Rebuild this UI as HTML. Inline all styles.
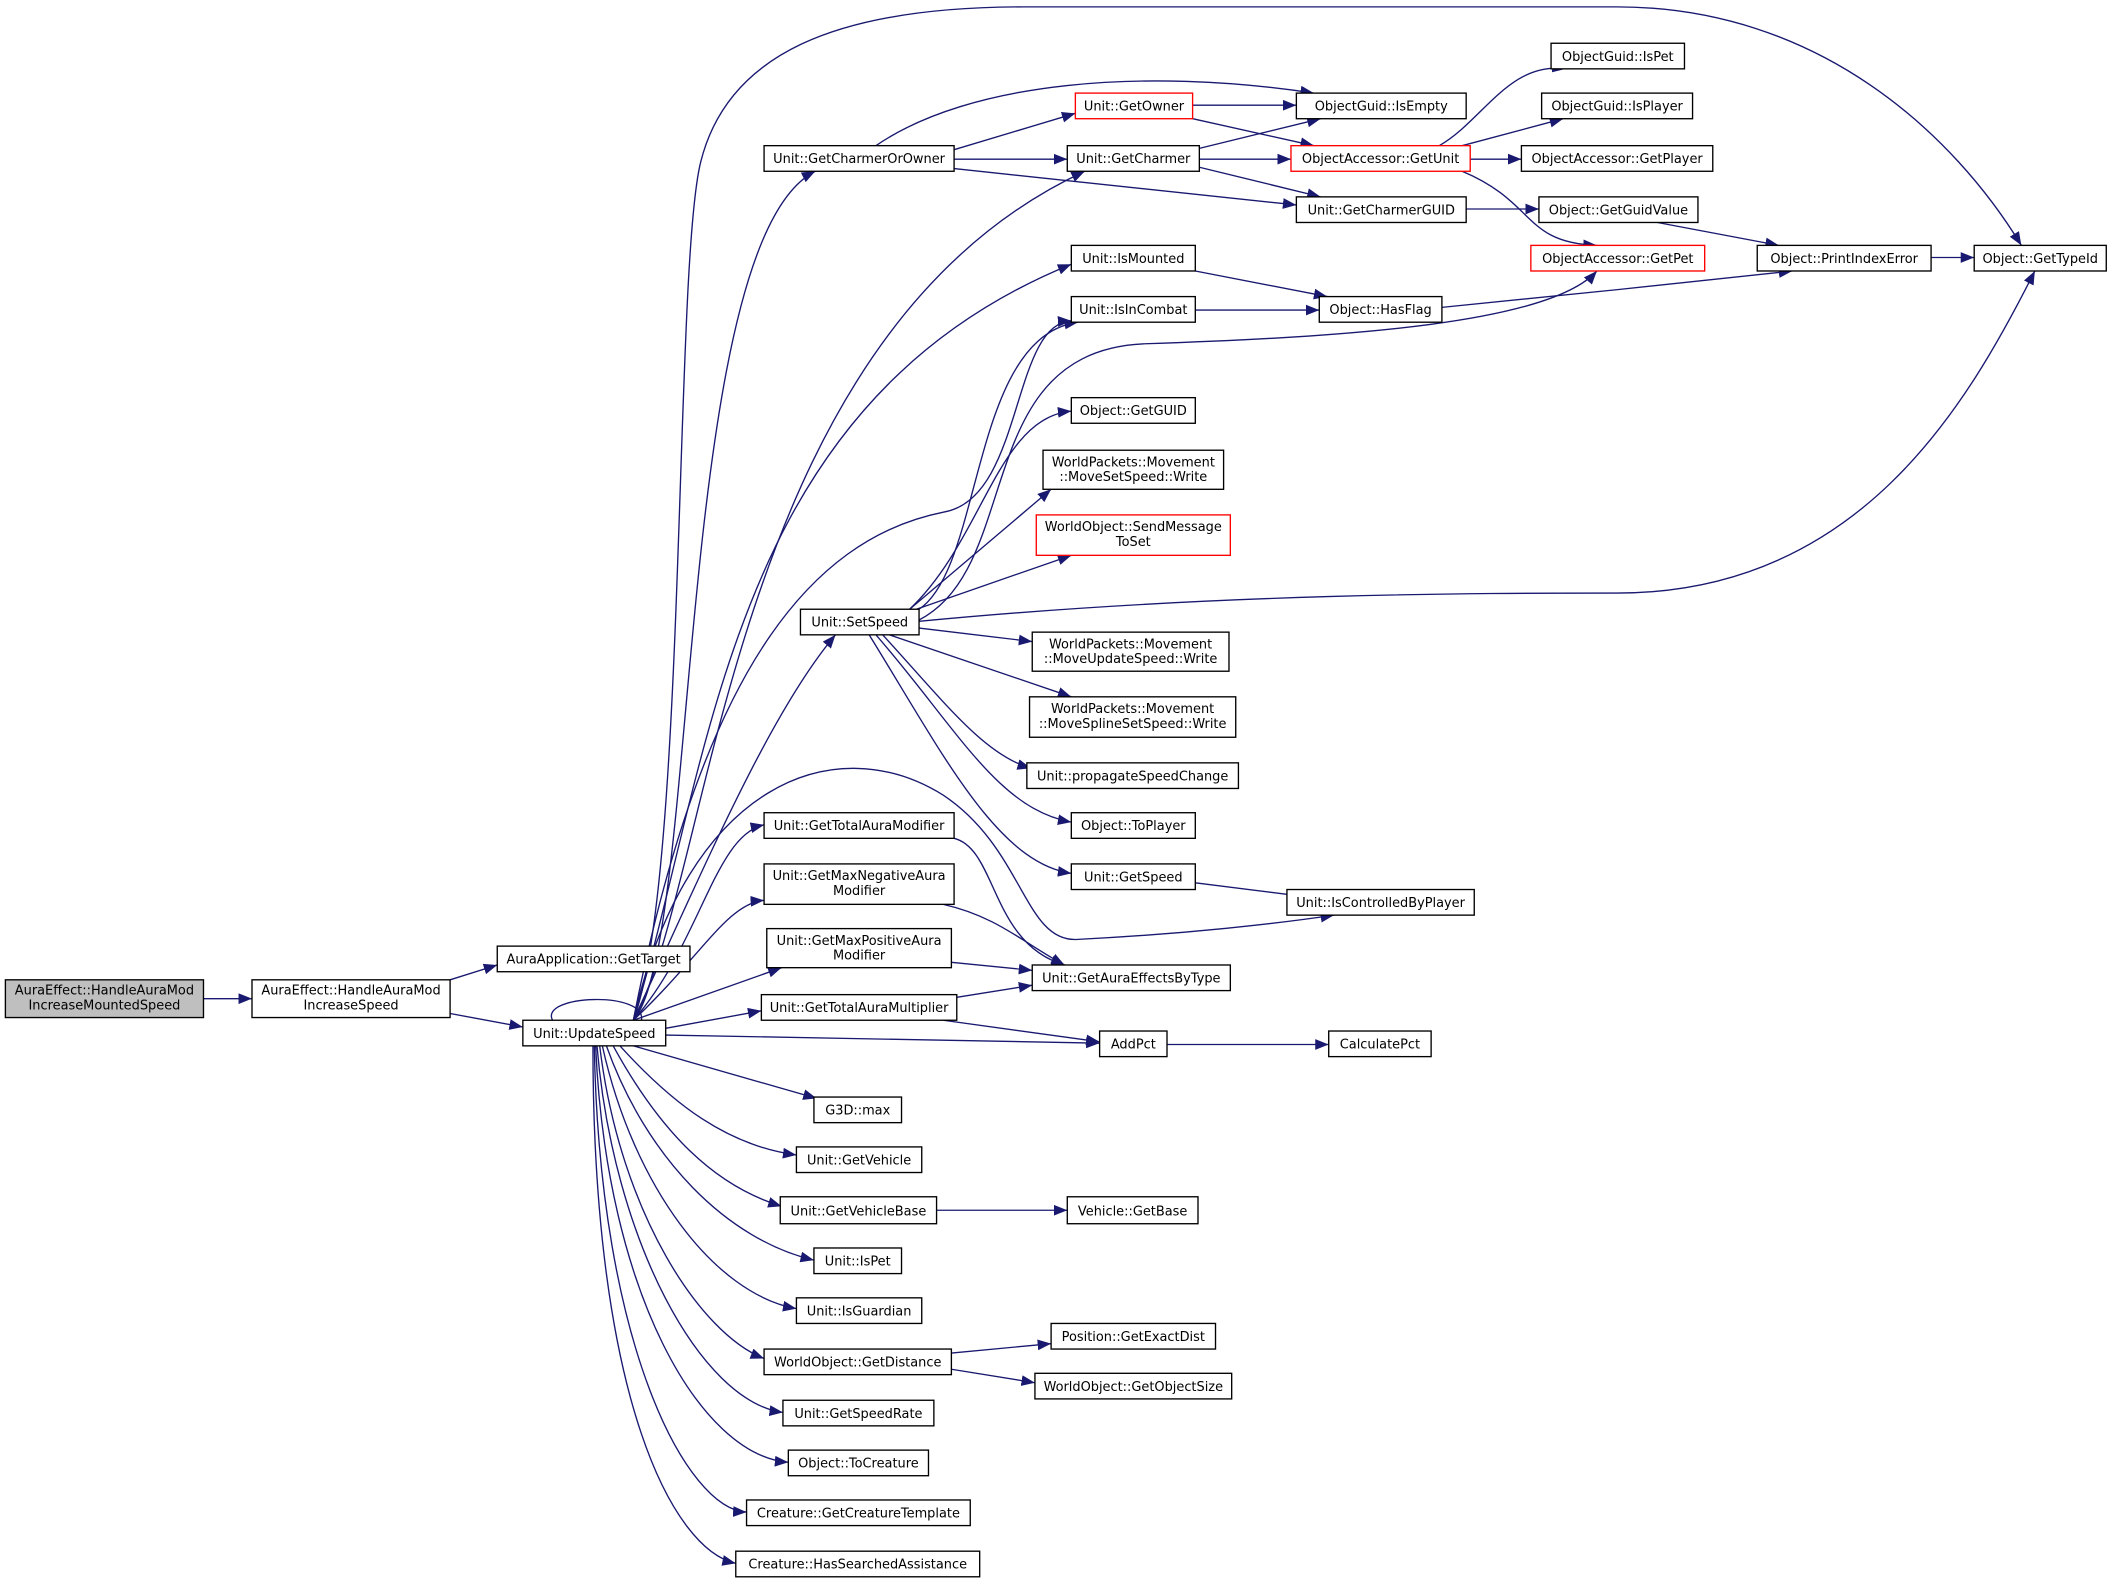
<!DOCTYPE html>
<html><head><meta charset="utf-8"><style>
html,body{margin:0;padding:0;background:#fff;}
svg{display:block}
text{font-family:"DejaVu Sans","Liberation Sans",sans-serif;font-size:9.6px;fill:#000;text-anchor:middle}
.n{fill:#fff;stroke:#000;stroke-width:1}
.r{fill:#fff;stroke:#ff0000;stroke-width:1}
.e{fill:none;stroke:#191970;stroke-width:1}
</style></head><body>
<svg width="2113" height="1585" viewBox="0 0 1568 1176" xmlns="http://www.w3.org/2000/svg">
<defs><marker id="a" markerUnits="userSpaceOnUse" markerWidth="11" markerHeight="8" refX="10" refY="4" orient="auto"><path d="M0,0 L10,4 L0,8 z" fill="#191970"/></marker></defs>
<g class="edges">
<path class="e" marker-end="url(#a)" d="M151,741 L187,741"/>
<path class="e" marker-end="url(#a)" d="M334,727 L369,716"/>
<path class="e" marker-end="url(#a)" d="M334,752 L388,762"/>
<path class="e" d="M410,757 C400,738 480,735 476,757"/>
<path class="e" marker-end="url(#a)" d="M470,757 C520,700 500,180 605,127"/>
<path class="e" marker-end="url(#a)" d="M470,757 C530,650 540,250 805,127"/>
<path class="e" marker-end="url(#a)" d="M470,757 C510,650 500,200 520,120 C540,40 620,5 760,5 L1200,5 C1350,5 1450,100 1500,182"/>
<path class="e" marker-end="url(#a)" d="M470,757 C530,560 540,300 795,196"/>
<path class="e" marker-end="url(#a)" d="M470,757 C520,500 600,400 700,380 C760,370 750,240 795,238"/>
<path class="e" marker-end="url(#a)" d="M470,757 C520,650 570,530 620,471"/>
<path class="e" marker-end="url(#a)" d="M470,757 C510,580 620,540 700,590 C760,630 760,700 800,697 C880,693 950,685 990,679"/>
<path class="e" marker-end="url(#a)" d="M470,757 C520,700 530,620 567,612"/>
<path class="e" marker-end="url(#a)" d="M470,757 C520,710 540,670 567,668"/>
<path class="e" marker-end="url(#a)" d="M470,757 L580,718"/>
<path class="e" marker-end="url(#a)" d="M494,763 L565,750"/>
<path class="e" marker-end="url(#a)" d="M494,768 L816,774"/>
<path class="e" marker-end="url(#a)" d="M470,776 L606,815"/>
<path class="e" marker-end="url(#a)" d="M460,776 C500,820 540,850 591,857"/>
<path class="e" marker-end="url(#a)" d="M455,776 C490,840 530,880 580,895"/>
<path class="e" marker-end="url(#a)" d="M450,776 C480,860 540,920 604,935"/>
<path class="e" marker-end="url(#a)" d="M447,776 C470,880 530,960 591,971"/>
<path class="e" marker-end="url(#a)" d="M445,776 C460,900 520,990 567,1008"/>
<path class="e" marker-end="url(#a)" d="M443,776 C455,920 520,1040 581,1048"/>
<path class="e" marker-end="url(#a)" d="M442,776 C450,960 520,1080 585,1085"/>
<path class="e" marker-end="url(#a)" d="M441,776 C445,1000 510,1120 554,1122"/>
<path class="e" marker-end="url(#a)" d="M440,776 C440,1040 500,1150 546,1160"/>
<path class="e" marker-end="url(#a)" d="M708,111 L798,84"/>
<path class="e" marker-end="url(#a)" d="M650,108 C720,60 850,50 975,69"/>
<path class="e" marker-end="url(#a)" d="M708,118 L792,118"/>
<path class="e" marker-end="url(#a)" d="M708,125 L962,152"/>
<path class="e" marker-end="url(#a)" d="M885,78 L962,78"/>
<path class="e" marker-end="url(#a)" d="M885,88 L975,108"/>
<path class="e" marker-end="url(#a)" d="M890,110 L980,88"/>
<path class="e" marker-end="url(#a)" d="M890,118 L958,118"/>
<path class="e" marker-end="url(#a)" d="M890,124 L980,146"/>
<path class="e" marker-end="url(#a)" d="M1068,108 C1100,90 1120,45 1162,51"/>
<path class="e" marker-end="url(#a)" d="M1085,108 L1160,88"/>
<path class="e" marker-end="url(#a)" d="M1091,118 L1129,118"/>
<path class="e" marker-end="url(#a)" d="M1085,127 C1140,150 1130,180 1185,182"/>
<path class="e" marker-end="url(#a)" d="M1088,155 L1142,155"/>
<path class="e" marker-end="url(#a)" d="M1230,165 L1320,182"/>
<path class="e" marker-end="url(#a)" d="M1433,191 L1465,191"/>
<path class="e" marker-end="url(#a)" d="M887,201 L985,220"/>
<path class="e" marker-end="url(#a)" d="M887,230 L979,230"/>
<path class="e" marker-end="url(#a)" d="M1070,228 C1150,220 1250,210 1330,201"/>
<path class="e" marker-end="url(#a)" d="M682,452 C730,420 720,250 800,239"/>
<path class="e" marker-end="url(#a)" d="M682,460 C760,420 720,260 850,255 C1000,250 1150,240 1185,201"/>
<path class="e" marker-end="url(#a)" d="M675,452 C730,400 740,310 795,305"/>
<path class="e" marker-end="url(#a)" d="M675,452 L780,363"/>
<path class="e" marker-end="url(#a)" d="M680,452 L795,412"/>
<path class="e" marker-end="url(#a)" d="M682,461 C900,440 1100,440 1200,440 C1380,440 1460,300 1510,201"/>
<path class="e" marker-end="url(#a)" d="M682,466 L766,476"/>
<path class="e" marker-end="url(#a)" d="M660,471 L795,517"/>
<path class="e" marker-end="url(#a)" d="M655,471 C700,520 730,560 765,570"/>
<path class="e" marker-end="url(#a)" d="M650,471 C710,540 740,600 795,610"/>
<path class="e" marker-end="url(#a)" d="M645,471 C700,560 740,640 795,648"/>
<path class="e" marker-end="url(#a)" d="M887,655 L990,668"/>
<path class="e" marker-end="url(#a)" d="M708,622 C740,630 735,700 790,716"/>
<path class="e" marker-end="url(#a)" d="M700,671 C740,680 760,700 790,716"/>
<path class="e" marker-end="url(#a)" d="M706,714 L766,720"/>
<path class="e" marker-end="url(#a)" d="M710,740 L766,731"/>
<path class="e" marker-end="url(#a)" d="M700,757 L816,773"/>
<path class="e" marker-end="url(#a)" d="M866,775 L986,775"/>
<path class="e" marker-end="url(#a)" d="M695,898 L792,898"/>
<path class="e" marker-end="url(#a)" d="M706,1004 L780,997"/>
<path class="e" marker-end="url(#a)" d="M706,1016 L768,1026"/>
</g>
<g>
<rect x="4" y="727" width="147" height="28" fill="#bfbfbf" stroke="#000"/><text x="77.5" y="738">AuraEffect::HandleAuraMod</text><text x="77.5" y="749">IncreaseMountedSpeed</text>
<rect class="n" x="187" y="727" width="147" height="28"/><text x="260.5" y="738">AuraEffect::HandleAuraMod</text><text x="260.5" y="749">IncreaseSpeed</text>
<rect class="n" x="369" y="702" width="143" height="19"/><text x="440.5" y="715">AuraApplication::GetTarget</text>
<rect class="n" x="388" y="757" width="106" height="19"/><text x="441" y="770">Unit::UpdateSpeed</text>
<rect class="n" x="567" y="108" width="141" height="19"/><text x="637.5" y="121">Unit::GetCharmerOrOwner</text>
<rect class="r" x="798" y="69" width="87" height="19"/><text x="841.5" y="82">Unit::GetOwner</text>
<rect class="n" x="962" y="69" width="126" height="19"/><text x="1025" y="82">ObjectGuid::IsEmpty</text>
<rect class="n" x="792" y="108" width="98" height="19"/><text x="841" y="121">Unit::GetCharmer</text>
<rect class="r" x="958" y="108" width="133" height="19"/><text x="1024.5" y="121">ObjectAccessor::GetUnit</text>
<rect class="n" x="1151" y="32" width="99" height="19"/><text x="1200.5" y="45">ObjectGuid::IsPet</text>
<rect class="n" x="1144" y="69" width="112" height="19"/><text x="1200" y="82">ObjectGuid::IsPlayer</text>
<rect class="n" x="1129" y="108" width="142" height="19"/><text x="1200" y="121">ObjectAccessor::GetPlayer</text>
<rect class="n" x="962" y="146" width="126" height="19"/><text x="1025" y="159">Unit::GetCharmerGUID</text>
<rect class="n" x="1142" y="146" width="118" height="19"/><text x="1201" y="159">Object::GetGuidValue</text>
<rect class="r" x="1136" y="182" width="129" height="19"/><text x="1200.5" y="195">ObjectAccessor::GetPet</text>
<rect class="n" x="1304" y="182" width="129" height="19"/><text x="1368.5" y="195">Object::PrintIndexError</text>
<rect class="n" x="1465" y="182" width="98" height="19"/><text x="1514" y="195">Object::GetTypeId</text>
<rect class="n" x="795" y="182" width="92" height="19"/><text x="841" y="195">Unit::IsMounted</text>
<rect class="n" x="795" y="220" width="92" height="19"/><text x="841" y="233">Unit::IsInCombat</text>
<rect class="n" x="979" y="220" width="91" height="19"/><text x="1024.5" y="233">Object::HasFlag</text>
<rect class="n" x="795" y="295" width="92" height="19"/><text x="841" y="308">Object::GetGUID</text>
<rect class="n" x="774" y="334" width="134" height="29"/><text x="841" y="346">WorldPackets::Movement</text><text x="841" y="357">::MoveSetSpeed::Write</text>
<rect class="r" x="769" y="382" width="144" height="30"/><text x="841" y="394">WorldObject::SendMessage</text><text x="841" y="405">ToSet</text>
<rect class="n" x="594" y="452" width="88" height="19"/><text x="638" y="465">Unit::SetSpeed</text>
<rect class="n" x="766" y="469" width="146" height="29"/><text x="839" y="481">WorldPackets::Movement</text><text x="839" y="492">::MoveUpdateSpeed::Write</text>
<rect class="n" x="764" y="517" width="153" height="30"/><text x="840.5" y="529">WorldPackets::Movement</text><text x="840.5" y="540">::MoveSplineSetSpeed::Write</text>
<rect class="n" x="762" y="566" width="157" height="19"/><text x="840.5" y="579">Unit::propagateSpeedChange</text>
<rect class="n" x="795" y="603" width="92" height="19"/><text x="841" y="616">Object::ToPlayer</text>
<rect class="n" x="795" y="641" width="92" height="19"/><text x="841" y="654">Unit::GetSpeed</text>
<rect class="n" x="955" y="660" width="139" height="19"/><text x="1024.5" y="673">Unit::IsControlledByPlayer</text>
<rect class="n" x="567" y="603" width="141" height="19"/><text x="637.5" y="616">Unit::GetTotalAuraModifier</text>
<rect class="n" x="567" y="641" width="141" height="30"/><text x="637.5" y="653">Unit::GetMaxNegativeAura</text><text x="637.5" y="664">Modifier</text>
<rect class="n" x="569" y="689" width="137" height="29"/><text x="637.5" y="701">Unit::GetMaxPositiveAura</text><text x="637.5" y="712">Modifier</text>
<rect class="n" x="766" y="716" width="147" height="19"/><text x="839.5" y="729">Unit::GetAuraEffectsByType</text>
<rect class="n" x="565" y="738" width="145" height="19"/><text x="637.5" y="751">Unit::GetTotalAuraMultiplier</text>
<rect class="n" x="816" y="765" width="50" height="19"/><text x="841" y="778">AddPct</text>
<rect class="n" x="986" y="765" width="76" height="19"/><text x="1024" y="778">CalculatePct</text>
<rect class="n" x="604" y="814" width="65" height="19"/><text x="636.5" y="827">G3D::max</text>
<rect class="n" x="591" y="851" width="93" height="19"/><text x="637.5" y="864">Unit::GetVehicle</text>
<rect class="n" x="579" y="888" width="116" height="20"/><text x="637" y="902">Unit::GetVehicleBase</text>
<rect class="n" x="792" y="888" width="97" height="20"/><text x="840.5" y="902">Vehicle::GetBase</text>
<rect class="n" x="604" y="926" width="65" height="19"/><text x="636.5" y="939">Unit::IsPet</text>
<rect class="n" x="591" y="963" width="93" height="19"/><text x="637.5" y="976">Unit::IsGuardian</text>
<rect class="n" x="567" y="1001" width="139" height="19"/><text x="636.5" y="1014">WorldObject::GetDistance</text>
<rect class="n" x="780" y="982" width="122" height="19"/><text x="841" y="995">Position::GetExactDist</text>
<rect class="n" x="768" y="1019" width="146" height="19"/><text x="841" y="1032">WorldObject::GetObjectSize</text>
<rect class="n" x="581" y="1039" width="112" height="19"/><text x="637" y="1052">Unit::GetSpeedRate</text>
<rect class="n" x="585" y="1076" width="104" height="19"/><text x="637" y="1089">Object::ToCreature</text>
<rect class="n" x="554" y="1113" width="166" height="19"/><text x="637" y="1126">Creature::GetCreatureTemplate</text>
<rect class="n" x="546" y="1151" width="181" height="19"/><text x="636.5" y="1164">Creature::HasSearchedAssistance</text>
</g>
</svg>
</body></html>
